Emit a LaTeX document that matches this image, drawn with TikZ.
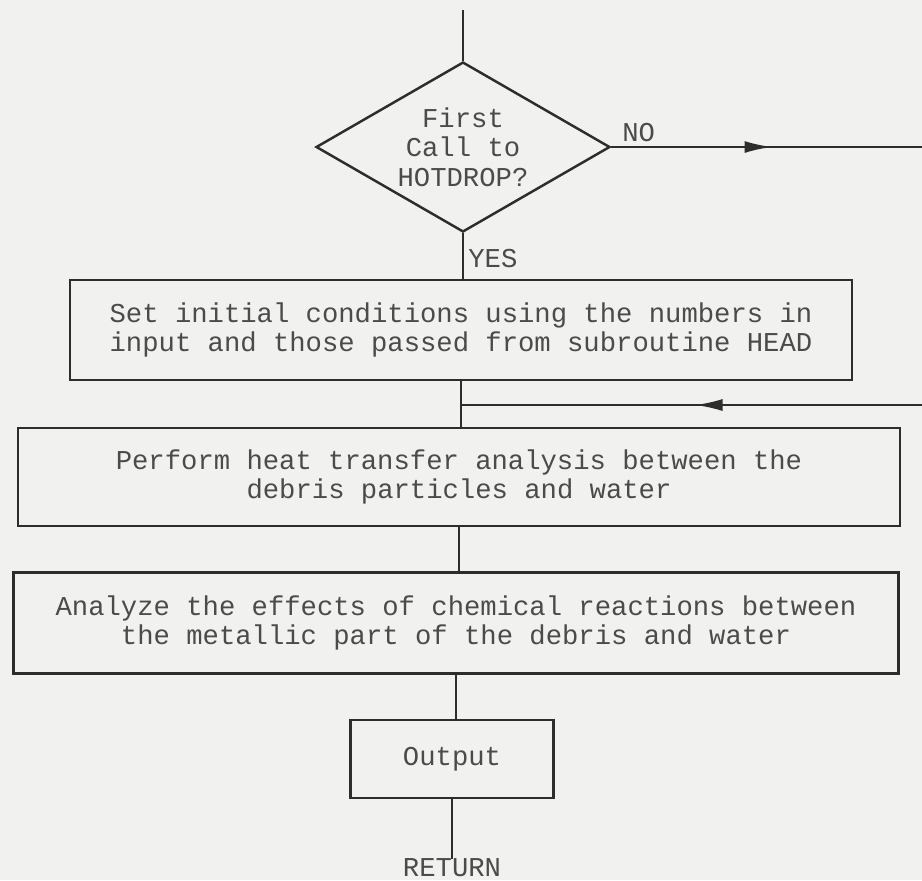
\documentclass[tikz,border=0pt]{standalone}
\usepackage{fontspec}
\setmonofont{Liberation Mono}
\usepackage{xcolor}
\definecolor{paper}{RGB}{241,241,239}
\definecolor{ink}{RGB}{45,45,45}
\definecolor{typed}{RGB}{75,75,75}
\usepackage{tikz}
\usetikzlibrary{shapes.geometric}
\usetikzlibrary{arrows.meta}
\newcommand{\flowfont}{\ttfamily\fontsize{15.5}{16.8}\selectfont}
\tikzset{
    common/.style={draw=ink, line width=1.4pt, text=typed, font=\flowfont, align=center},
    decision/.style={common, diamond, inner sep=0pt, shape aspect=1.7, minimum width=5.88cm, minimum height=3.4cm},
    process/.style={common, rectangle, minimum height=2cm},
    flow/.style={draw=ink, line width=1.4pt},
    flowarrow/.style={flow, -{Latex[length=5.5mm,width=2.4mm]}},
    answer/.style={text=typed, font=\flowfont, anchor=west, inner sep=0pt}
}

\begin{document}
\begin{tikzpicture}[x=0.02cm, y=-0.02cm]
      \fill[paper] (0,0) rectangle (922,880);
      \useasboundingbox (0,0) rectangle (922,880);

      \path
          (463,147) node[decision] (first-call) {First\\Call to\\HOTDROP?}
          (463,10) coordinate (entry)
          (461,330) node[process, minimum width=15.64cm] (set-init) {Set initial conditions using the numbers in\\input and those passed from subroutine HEAD}
          (459,477) node[process, minimum width=17.64cm, minimum height=1.96cm] (heat) {Perform heat transfer analysis between the\\debris particles and water}
          (456,623) node[process, minimum width=17.7cm, minimum height=2.02cm] (chem) {Analyze the effects of chemical reactions between\\the metallic part of the debris and water}
          (452,759) node[process, minimum width=4.06cm, minimum height=1.56cm] (output) {Output}
          (452,868) node[answer, anchor=center] (return) {RETURN}
          (622,133) node[answer] (no-label) {NO}
          (468,259) node[answer] (yes-label) {YES}
          (772,147) coordinate (no-tip)
          (922,147) coordinate (no-end)
          (922,405) coordinate (loop-start)
          (695,405) coordinate (loop-tip);

      \draw[flow] (entry) -- (first-call.north);
      \draw[flow] (first-call.south) -- (first-call.south |- set-init.north);
      \draw[flowarrow] (first-call.east) -- (no-tip);
      \draw[flow, shorten <=-5pt] (no-tip) -- (no-end);
      \draw[flowarrow] (loop-start) -- (loop-tip);
      \draw[flow, shorten <=-5pt] (loop-tip) -- (set-init.south |- loop-tip);
      \draw[flow] (set-init.south) -- (set-init.south |- heat.north);
      \draw[flow] (heat.south) -- (heat.south |- chem.north);
      \draw[flow] (chem.south) -- (chem.south |- output.north);
      \draw[flow] (output.south) -- (return.north);
\end{tikzpicture}
\end{document}
